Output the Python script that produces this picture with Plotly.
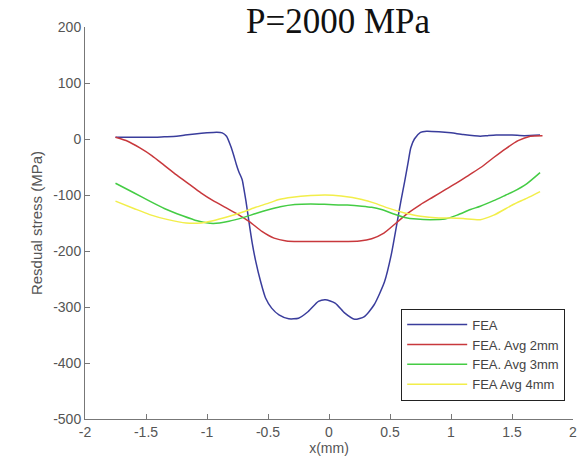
import plotly.graph_objects as go

blue_x = [-1.75, -1.65, -1.55, -1.46, -1.35, -1.25, -1.18, -1.10, -1.00, -0.92, -0.875, -0.84, -0.805,
          -0.78, -0.76, -0.74, -0.72, -0.71, -0.70, -0.68, -0.656, -0.63, -0.60, -0.56, -0.52, -0.47,
          -0.41, -0.33, -0.25, -0.17, -0.087, -0.03, 0.05, 0.13, 0.21, 0.29, 0.37, 0.455, 0.51, 0.56,
          0.59, 0.62, 0.65, 0.67, 0.70, 0.75, 0.80, 0.90, 1.00, 1.10, 1.24, 1.30, 1.37, 1.50, 1.60, 1.73]
blue_y = [3, 3, 3, 3, 4, 5, 7, 9, 11, 12, 11, 5, -13,
          -30, -45, -58, -68, -74, -86, -112, -148, -185, -219, -255, -284, -302,
          -314, -321, -320, -308, -290, -287, -293, -311, -322, -317, -296, -255, -207, -147,
          -110, -76, -40, -16, 0, 12, 14, 13, 11, 8, 5, 6, 7, 7, 6, 7]

red_x = [-1.75, -1.65, -1.55, -1.45, -1.35, -1.25, -1.15, -1.05, -0.95, -0.85, -0.75, -0.65, -0.55,
         -0.45, -0.35, -0.25, -0.1, 0, 0.1, 0.25, 0.35, 0.45, 0.55, 0.65, 0.75, 0.85, 0.95, 1.05,
         1.15, 1.25, 1.35, 1.45, 1.55, 1.65, 1.75]
red_y = [3, -4, -16, -30, -47, -64, -80, -96, -110, -122, -134, -148, -165,
         -177, -182, -183, -183, -183, -183, -182, -178, -168, -150, -132, -117, -104, -91, -78,
         -64, -50, -33, -17, -3, 5, 6]

green_x = [-1.75, -1.6, -1.47, -1.35, -1.2, -1.08, -0.95, -0.82, -0.7, -0.6, -0.49, -0.4, -0.28,
           -0.15, 0, 0.15, 0.27, 0.35, 0.43, 0.52, 0.62, 0.72, 0.83, 0.95, 1.05, 1.16, 1.24, 1.35,
           1.45, 1.51, 1.62, 1.73]
green_y = [-79, -96, -111, -124, -137, -146, -151, -147, -140, -133, -126, -121, -117,
           -116, -117, -118, -120, -122, -126, -133, -140, -143, -144, -143, -136, -126, -120, -110,
           -100, -94, -80, -60]

yellow_x = [-1.75, -1.6, -1.47, -1.32, -1.17, -1.05, -0.95, -0.83, -0.7, -0.6, -0.5, -0.41, -0.3,
            -0.15, -0.03, 0.1, 0.27, 0.38, 0.48, 0.62, 0.75, 0.9, 1.0, 1.1, 1.24, 1.35, 1.51, 1.62, 1.73]
yellow_y = [-111, -124, -135, -144, -150, -150, -146, -139, -130, -122, -115, -108, -104,
            -101, -100, -102, -108, -115, -123, -132, -138, -141, -141, -142, -144, -136, -117, -106, -94]

x_ticks = [-2, -1.5, -1, -0.5, 0, 0.5, 1, 1.5, 2]
x_ticktext = ["-2", "-1.5", "-1", "-0.5", "0", "0.5", "1", "1.5", "2"]
y_ticks = [-500, -400, -300, -200, -100, 0, 100, 200]
y_ticktext = ["-500", "-400", "-300", "-200", "-100", "0", "100", "200"]

names = ["FEA", "FEA. Avg 2mm", "FEA. Avg 3mm", "FEA Avg 4mm"]
colors = ["#3a3d9c", "#c8383c", "#44cc44", "#f2ee4a"]
xs = [blue_x, red_x, green_x, yellow_x]
ys = [blue_y, red_y, green_y, yellow_y]

fig = go.Figure()
for n, c, x, y in zip(names, colors, xs, ys):
    fig.add_trace(go.Scatter(x=x, y=y, mode="lines", name=n,
                             line=dict(color=c, width=1.5, shape="spline", smoothing=0.6)))

axis_common = dict(showgrid=False, zeroline=False, showline=True, linecolor="#777777", linewidth=1,
                   ticks="inside", ticklen=5, tickcolor="#777777",
                   tickfont=dict(family="Arial, Liberation Sans", size=14, color="#555555"))

fig.update_layout(
    width=588, height=468,
    margin=dict(l=85, r=11, t=27, b=49),
    paper_bgcolor="white", plot_bgcolor="white",
    xaxis=dict(range=[-2, 2], tickvals=x_ticks, ticktext=x_ticktext,
               title=dict(text="x(mm)", font=dict(family="Arial, Liberation Sans", size=14, color="#555555"),
                          standoff=2),
               **axis_common),
    yaxis=dict(range=[-500, 200], tickvals=y_ticks, ticktext=y_ticktext,
               title=dict(text="Resdual stress (MPa)", font=dict(family="Arial, Liberation Sans", size=15, color="#555555"),
                          standoff=6),
               **axis_common),
    legend=dict(x=0.984, y=0.047, xanchor="right", yanchor="bottom",
                bordercolor="#222222", borderwidth=1, bgcolor="white",
                font=dict(family="Arial, Liberation Sans", size=13, color="#444444"),
                tracegroupgap=0, itemwidth=60),
    showlegend=True,
)

fig.add_annotation(text="P=2000 MPa", xref="paper", yref="paper", x=0.52, y=1.0135,
                   xanchor="center", yanchor="middle", showarrow=False,
                   font=dict(family="Liberation Serif, Times New Roman", size=35, color="#111111"))

fig.write_html("out.html")
